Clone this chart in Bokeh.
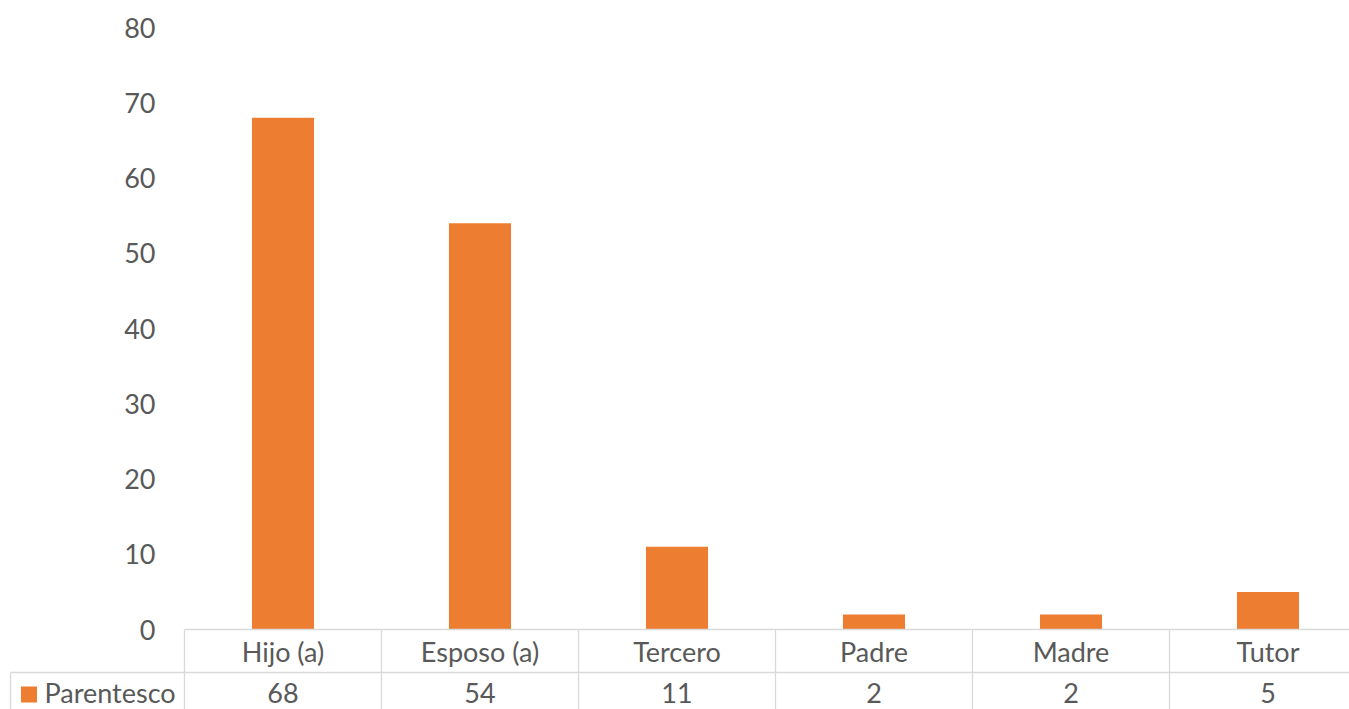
from bokeh.plotting import figure
from bokeh.models import Range1d
from bokeh.core.properties import value
from bokeh.embed import file_html
from bokeh.resources import INLINE

# ---- data ----
categories = ["Hijo (a)", "Esposo (a)", "Tercero", "Padre", "Madre", "Tutor"]
parentesco = [68, 54, 11, 2, 2, 5]
series_name = "Parentesco"
y_ticks = [0, 10, 20, 30, 40, 50, 60, 70, 80]

# ---- layout constants (pixels) ----
W, H = 1349, 709
CAT_PX = 197.0          # width of a category column
X0_PX = 184.0           # canvas x of the first column's left edge
Y0_PX = 629.0           # canvas y of value 0
Y_PX = 602.0 / 80.0     # pixels per unit value

def dx(px):             # canvas x -> data x
    return (px - X0_PX) / CAT_PX

def dy(py):             # canvas y -> data y
    return (Y0_PX - py) / Y_PX

FONT = value("Lato")
TXT = "#595959"
GRID = "#D9D9D9"
ORANGE = "#ED7D31"
FS = "27px"

p = figure(width=W, height=H,
           x_range=Range1d(dx(0), dx(W)), y_range=Range1d(dy(H), dy(0)),
           output_backend="svg", toolbar_location=None,
           x_axis_location=None, y_axis_location=None, min_border=0)
p.grid.visible = False
p.outline_line_color = None
p.background_fill_color = "white"

n = len(categories)
centers = [i + 0.5 for i in range(n)]

# bars
p.vbar(x=centers, top=parentesco, bottom=0, width=0.315,
       fill_color=ORANGE, line_color=None)

# y tick labels
p.text(x=[0] * len(y_ticks), y=y_ticks, text=[str(t) for t in y_ticks],
       x_offset=-29, text_align="right", text_baseline="middle",
       text_font=FONT, text_font_size=FS, text_color=TXT)

# data table
y_row = dy(672)
y_bottom = dy(H + 20)
x_leg = dx(10)
x_end = dx(W + 40)
p.segment(x0=[0, x_leg], y0=[0, y_row], x1=[x_end, x_end], y1=[0, y_row],
          line_color=GRID, line_width=1.3)
vx = list(range(n + 1))
p.segment(x0=vx, y0=[0] * len(vx), x1=vx, y1=[y_bottom] * len(vx),
          line_color=GRID, line_width=1.3)
p.segment(x0=[x_leg], y0=[y_row], x1=[x_leg], y1=[y_bottom],
          line_color=GRID, line_width=1.3)

p.text(x=centers, y=[dy(651)] * n, text=categories,
       text_align="center", text_baseline="middle",
       text_font=FONT, text_font_size=FS, text_color=TXT)
p.text(x=centers, y=[dy(692)] * n, text=[str(v) for v in parentesco],
       text_align="center", text_baseline="middle",
       text_font=FONT, text_font_size=FS, text_color=TXT)

# legend key in table
p.rect(x=[dx(28.5)], y=[dy(694)], width=16, height=16,
       width_units="screen", height_units="screen",
       fill_color=ORANGE, line_color=None)
p.text(x=[dx(44)], y=[dy(692)], text=[series_name],
       text_align="left", text_baseline="middle",
       text_font=FONT, text_font_size=FS, text_color=TXT)

open("out.html", "w").write(file_html(p, INLINE))
